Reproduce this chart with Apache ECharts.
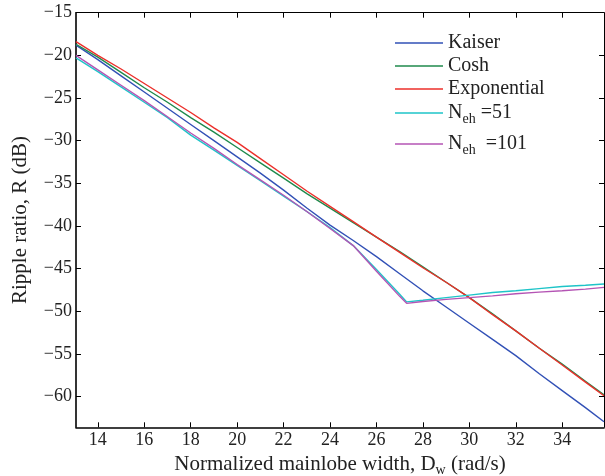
<!DOCTYPE html>
<html><head><meta charset="utf-8">
<script src="https://cdn.jsdelivr.net/npm/echarts@6/dist/echarts.min.js"></script>
<style>html,body{margin:0;padding:0;background:#fff}#c{width:605px;height:476px}</style>
</head><body><div id="c"></div>
<script>
const seriesNames = ['Kaiser','Cosh','Exponential','Neh51','Neh101'];
const xCommon = [13.06,14,15,16,17,18,19,20,21,22,23,24,25,26,27,28,29,30,31,32,33,34,35,35.8];
const kaiser = [-18.8,-20.5,-22.4,-24.3,-26.2,-28.1,-30.0,-31.9,-33.8,-35.8,-37.9,-39.9,-41.7,-43.6,-45.6,-47.6,-49.5,-51.4,-53.3,-55.2,-57.3,-59.3,-61.3,-62.95];
const cosh = [-18.7,-20.2,-22.0,-23.8,-25.5,-27.3,-29.0,-30.8,-32.6,-34.4,-36.2,-37.9,-39.6,-41.3,-43.0,-44.8,-46.6,-48.4,-50.3,-52.3,-54.3,-56.2,-58.2,-59.8];
const expo = [-18.4,-20.0,-21.6,-23.3,-25.0,-26.7,-28.5,-30.2,-32.1,-34.0,-35.9,-37.7,-39.5,-41.3,-43.1,-44.9,-46.6,-48.4,-50.4,-52.3,-54.3,-56.3,-58.3,-59.9];
const xNeh = [13.06,14,15,16,17,18,19,20,21,22,23,24,25,26,27,27.3,28,29,30,31,32,33,34,35,35.8];
const neh51 = [-20.3,-21.9,-23.7,-25.5,-27.3,-29.35,-31.1,-32.9,-34.7,-36.5,-38.3,-40.2,-42.3,-45.1,-48.0,-48.9,-48.7,-48.4,-48.1,-47.8,-47.6,-47.35,-47.1,-46.95,-46.8];
const neh101 = [-20.0,-21.7,-23.5,-25.3,-27.2,-29.1,-30.9,-32.8,-34.6,-36.4,-38.3,-40.3,-42.3,-45.3,-48.25,-49.07,-48.85,-48.6,-48.4,-48.2,-47.95,-47.75,-47.6,-47.4,-47.2];
const xTicks = [14,16,18,20,22,24,26,28,30,32,34];
const yTicks = [-15,-20,-25,-30,-35,-40,-45,-50,-55,-60];
const xRange = [13.06, 35.8];
const yRange = [-63.6, -15];

const FONT = 'Liberation Serif';
const colors = ['#3150b6','#1f8a4c','#ec2f2a','#1ec4c8','#b454b4'];
const pair = (xs, ys) => xs.map((x, i) => [x, ys[i]]);
const fmtNum = v => String(v).replace('-', '\u2212');

const chart = echarts.init(document.getElementById('c'), null, {renderer: 'canvas'});
const tickCommon = {show: true, inside: true, length: 5, lineStyle: {color: '#000', width: 1}};
const option = {
  animation: false,
  backgroundColor: '#fff',
  grid: {left: 76, right: 1, top: 12.7, bottom: 48.7, containLabel: false, outerBoundsMode: 'none'},
  xAxis: [{
    type: 'value', min: xRange[0], max: xRange[1], position: 'bottom',
    axisLine: {show: true, onZero: false, lineStyle: {color: '#000', width: 1.6}},
    axisTick: Object.assign({}, tickCommon, {customValues: xTicks}),
    axisLabel: {customValues: xTicks, formatter: fmtNum, color: '#222', fontFamily: FONT, fontSize: 18, margin: 4},
    splitLine: {show: false},
    name: '{a|Normalized mainlobe width, D}{s|w}{a| (rad/s)}',
    nameLocation: 'middle', nameGap: 21,
    nameTextStyle: {rich: {a: {fontFamily: FONT, fontSize: 21, color: '#222'}, s: {fontFamily: FONT, fontSize: 14, color: '#222', padding: [11, 0, 0, 0]}}}
  }, {
    type: 'value', min: xRange[0], max: xRange[1], position: 'top',
    axisLine: {show: true, onZero: false, lineStyle: {color: '#000', width: 1}},
    axisTick: Object.assign({}, tickCommon, {customValues: xTicks}),
    axisLabel: {show: false}, splitLine: {show: false}
  }],
  yAxis: [{
    type: 'value', min: yRange[0], max: yRange[1], position: 'left',
    axisLine: {show: true, onZero: false, lineStyle: {color: '#000', width: 1.6}},
    axisTick: Object.assign({}, tickCommon, {customValues: yTicks}),
    axisLabel: {customValues: yTicks, formatter: fmtNum, color: '#222', fontFamily: FONT, fontSize: 18, margin: 4},
    splitLine: {show: false},
    name: 'Ripple ratio, R (dB)', nameLocation: 'middle', nameGap: 45, nameRotate: 90,
    nameTextStyle: {fontFamily: FONT, fontSize: 21, color: '#222'}
  }, {
    type: 'value', min: yRange[0], max: yRange[1], position: 'right',
    axisLine: {show: true, onZero: false, lineStyle: {color: '#000', width: 1}},
    axisTick: Object.assign({}, tickCommon, {customValues: yTicks}),
    axisLabel: {show: false}, splitLine: {show: false}
  }],
  legend: [
    {name: 'Kaiser', top: 33},
    {name: 'Cosh', top: 56},
    {name: 'Exponential', top: 79},
    {name: 'Neh51', top: 103},
    {name: 'Neh101', top: 134}
  ].map(l => ({
    data: [l.name], left: 395, top: l.top, padding: 0, itemWidth: 48, itemHeight: 1.6,
    icon: 'rect', itemGap: 0,
    textStyle: {fontFamily: FONT, fontSize: 20, color: '#222',
      rich: {a: {fontFamily: FONT, fontSize: 20, color: '#222'}, s: {fontFamily: FONT, fontSize: 14, color: '#222', padding: [12, 0, 0, 0]}}},
    formatter: n => n === 'Neh51' ? '{a|N}{s|eh}{a| =51}' : (n === 'Neh101' ? '{a|N}{s|eh}{a|  =101}' : n)
  })),
  series: [
    {name: 'Kaiser', data: pair(xCommon, kaiser)},
    {name: 'Cosh', data: pair(xCommon, cosh)},
    {name: 'Exponential', data: pair(xCommon, expo)},
    {name: 'Neh51', data: pair(xNeh, neh51)},
    {name: 'Neh101', data: pair(xNeh, neh101)}
  ].map((s, i) => Object.assign(s, {
    type: 'line', showSymbol: false, symbol: 'none', color: colors[i],
    lineStyle: {color: colors[i], width: 1.4}, itemStyle: {color: colors[i]}
  }))
};
chart.setOption(option);
</script></body></html>
